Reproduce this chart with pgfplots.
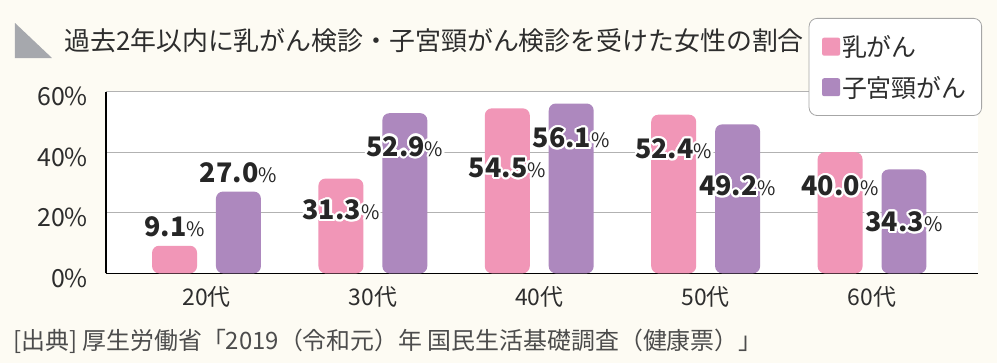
\documentclass[border=0pt]{standalone}
\usepackage{pgfplots}
\pgfplotsset{compat=1.18}
\usepackage{fontspec}
\setmainfont{Noto Sans CJK JP}
\usepackage[copies]{contour}
\contourlength{2.2bp}
\contournumber{16}
\definecolor{bg}{RGB}{253,251,243}
\definecolor{pinkbar}{RGB}{241,150,183}
\definecolor{purplebar}{RGB}{173,136,190}
\definecolor{gridgray}{RGB}{178,178,178}
\definecolor{txt}{RGB}{45,45,45}
\definecolor{tri}{RGB}{166,168,173}
\newcommand{\lbl}[1]{\contour{white}{\fontsize{27}{27}\selectfont\bfseries #1{\fontsize{20}{20}\selectfont\mdseries\%}}}
\begin{document}
\begin{tikzpicture}[x=1bp,y=1bp]
\fill[bg] (-106,-89.7) rectangle (891,273.3);
\begin{axis}[
  scale only axis, width=872bp, height=181.6bp,
  xmin=-0.604, xmax=4.637, ymin=0, ymax=60,
  axis lines=left, axis line style={-, black, line width=1.3bp},
  axis background/.style={fill=white},
  ymajorgrids, grid style={gridgray, line width=1bp},
  ytick={0,20,40,60}, yticklabels={0\%,20\%,40\%,60\%},
  xtick={0,1,2,3,4}, xticklabels={20代,30代,40代,50代,60代},
  major tick length=0pt, tick style={draw=none},
  yticklabel style={font=\fontsize{25}{25}\selectfont, text=txt, anchor=east, inner sep=0pt, xshift=-18bp, yshift=-5bp},
  xticklabel style={font=\fontsize{23}{23}\selectfont, text=txt, anchor=north, inner sep=0pt, yshift=-13bp},
  legend style={at={(axis description cs:1.0046,1.406)}, anchor=north east, draw=gray!70, line width=0.8bp, rounded corners=8bp, fill=white, font=\fontsize{25}{27}\selectfont, text=txt, inner xsep=13bp, inner ysep=16bp, row sep=16bp, nodes={inner xsep=2bp, inner ysep=1bp}},
  legend cell align=left,
]
\addplot[ybar, bar width=0.27, bar shift=-0.192, fill=pinkbar, draw=none, rounded corners=7bp,
  legend image code/.code={\fill[pinkbar, rounded corners=2bp] (0bp,-9bp) rectangle (18bp,9bp);}]
  coordinates {(0,9.1) (1,31.3) (2,54.5) (3,52.4) (4,40.0)};
\addlegendentry{乳がん}
\addplot[ybar, bar width=0.27, bar shift=0.192, fill=purplebar, draw=none, rounded corners=7bp,
  legend image code/.code={\fill[purplebar, rounded corners=2bp] (0bp,-9bp) rectangle (18bp,9bp);}]
  coordinates {(0,27.0) (1,52.9) (2,56.1) (3,49.2) (4,34.3)};
\addlegendentry{子宮頸がん}
\addplot[forget plot, draw=none, mark=none, point meta=explicit symbolic,
  nodes near coords={\lbl{\pgfplotspointmeta}},
  nodes near coords style={anchor=center, inner sep=0pt, text=black!85}]
  coordinates {(-0.192,15.0) [9.1] (0.192,33.0) [27.0]
               (0.808,20.6) [31.3] (1.192,41.6) [52.9]
               (1.808,34.5) [54.5] (2.192,44.4) [56.1]
               (2.808,40.7) [52.4] (3.192,28.5) [49.2]
               (3.808,28.5) [40.0] (4.192,16.6) [34.3]};
\end{axis}
\fill[tri] (-91,250.3) -- (-91,215.3) -- (-54,215.3) -- cycle;
\node[anchor=west, inner sep=0pt, text=txt, font=\fontsize{26}{26}\selectfont] at (-42,232.3) {過去2年以内に乳がん検診・子宮頸がん検診を受けた女性の割合};
\node[anchor=west, inner sep=0pt, text=black!70, font=\fontsize{24}{24}\selectfont] at (-93,-67.7) {[出典] 厚生労働省「2019（令和元）年 国民生活基礎調査（健康票）」};
\pgfresetboundingbox
\path (-106,-89.7) rectangle (891,273.3);
\end{tikzpicture}
\end{document}
